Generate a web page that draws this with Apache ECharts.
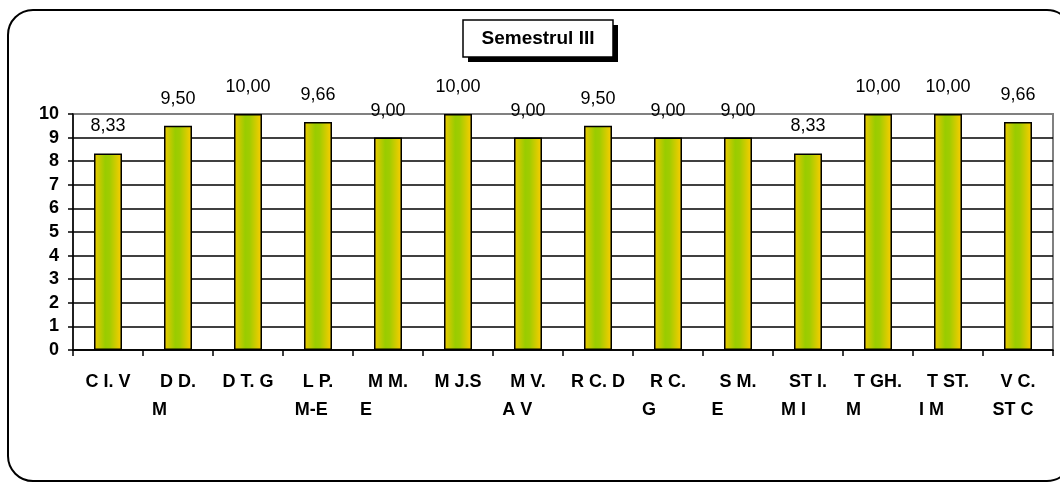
<!DOCTYPE html>
<html><head><meta charset="utf-8">
<script src="https://cdn.jsdelivr.net/npm/echarts@6/dist/echarts.min.js"></script>
<style>html,body{margin:0;padding:0;background:#fff}#c{width:1060px;height:483px}</style>
</head><body><div id="c"></div>
<script>
const categories = ['C I. V','D D.\nM','D T. G','L P.\nM-E','M M.\nE','M J.S','M V.\nA V','R C. D','R C.\nG','S M.\nE','ST I.\nM I','T GH.\nM','T ST.\nI M','V C.\nST C'];
const values = [8.33,9.50,10.00,9.66,9.00,10.00,9.00,9.50,9.00,9.00,8.33,10.00,10.00,9.66];
const yTicks = [0,1,2,3,4,5,6,7,8,9,10];
const titleText = 'Semestrul III';

const FONT = 'Arial, "Liberation Sans", sans-serif';
const XFS = 18;
const cv = document.createElement('canvas').getContext('2d');
cv.font = 'bold ' + XFS + 'px "Liberation Sans", Arial, sans-serif';
function tw(s){ return cv.measureText(s).width; }

const rich = {
  a:{fontWeight:'bold',fontSize:XFS,fontFamily:FONT,color:'#000',lineHeight:28},
  b:{fontWeight:'bold',fontSize:XFS,fontFamily:FONT,color:'#000',lineHeight:28}
};
categories.forEach((c,i)=>{
  const parts = c.split('\n');
  if(parts.length>1){
    rich['s'+i] = {width: Math.max(0, tw(parts[0]) - tw(parts[1]) + 16), lineHeight:28};
  }
});

const chart = echarts.init(document.getElementById('c'), null, {renderer:'canvas'});
const splitColors = yTicks.map((v,i)=> i === yTicks.length-1 ? '#808080' : '#000');
chart.setOption({
  animation:false,
  backgroundColor:'#fff',
  grid:{left:73, right:7, top:114, bottom:133, show:true, borderColor:'#808080', borderWidth:2, backgroundColor:'transparent'},
  graphic:[
    {type:'rect', shape:{x:8,y:10,width:1064,height:471,r:25}, style:{fill:'none',stroke:'#000',lineWidth:2}, z:0},
    {type:'rect', shape:{x:468,y:25,width:150,height:37}, style:{fill:'#000'}, z:10},
    {type:'rect', shape:{x:463,y:20,width:150,height:37}, style:{fill:'#fff',stroke:'#000',lineWidth:1.5}, z:11},
    {type:'text', x:538, y:39, style:{text:titleText, font:'bold 19px '+FONT, fill:'#000', align:'center', verticalAlign:'middle'}, z:12}
  ],
  xAxis:{
    type:'category', data:categories,
    axisLine:{lineStyle:{color:'#000',width:1.5}},
    axisTick:{show:true, length:6, lineStyle:{color:'#000',width:1.5}},
    axisLabel:{
      interval:0, margin:18, color:'#000', fontWeight:'bold', fontSize:XFS, fontFamily:FONT, lineHeight:28,
      formatter:function(v, idx){
        const parts = v.split('\n');
        if(parts.length<2) return '{a|'+parts[0]+'}';
        return '{a|'+parts[0]+'}\n{b|'+parts[1]+'}{s'+idx+'|}';
      },
      rich:rich
    }
  },
  yAxis:{
    type:'value', min:0, max:10, interval:1,
    axisLine:{show:true, lineStyle:{color:'#000',width:1.5}},
    axisTick:{show:true, length:5, lineStyle:{color:'#000',width:1.5}},
    axisLabel:{color:'#000', fontWeight:'bold', fontSize:18, fontFamily:FONT, margin:14},
    splitLine:{show:true, lineStyle:{color:splitColors, width:1.5}}
  },
  series:[{
    type:'bar', data:values, barWidth:28,
    itemStyle:{
      borderColor:'#000', borderWidth:1.5,
      color:new echarts.graphic.LinearGradient(0,0,1,0,[
        {offset:0,color:'#F0C800'},{offset:0.4,color:'#99CC00'},{offset:0.55,color:'#A0CC00'},{offset:1,color:'#FFCC00'}
      ])
    },
    label:{show:true, position:'top', distance:18, color:'#000', fontSize:18, fontFamily:FONT,
      formatter:function(p){ return p.value.toFixed(2).replace('.',','); }}
  }]
});
</script></body></html>
